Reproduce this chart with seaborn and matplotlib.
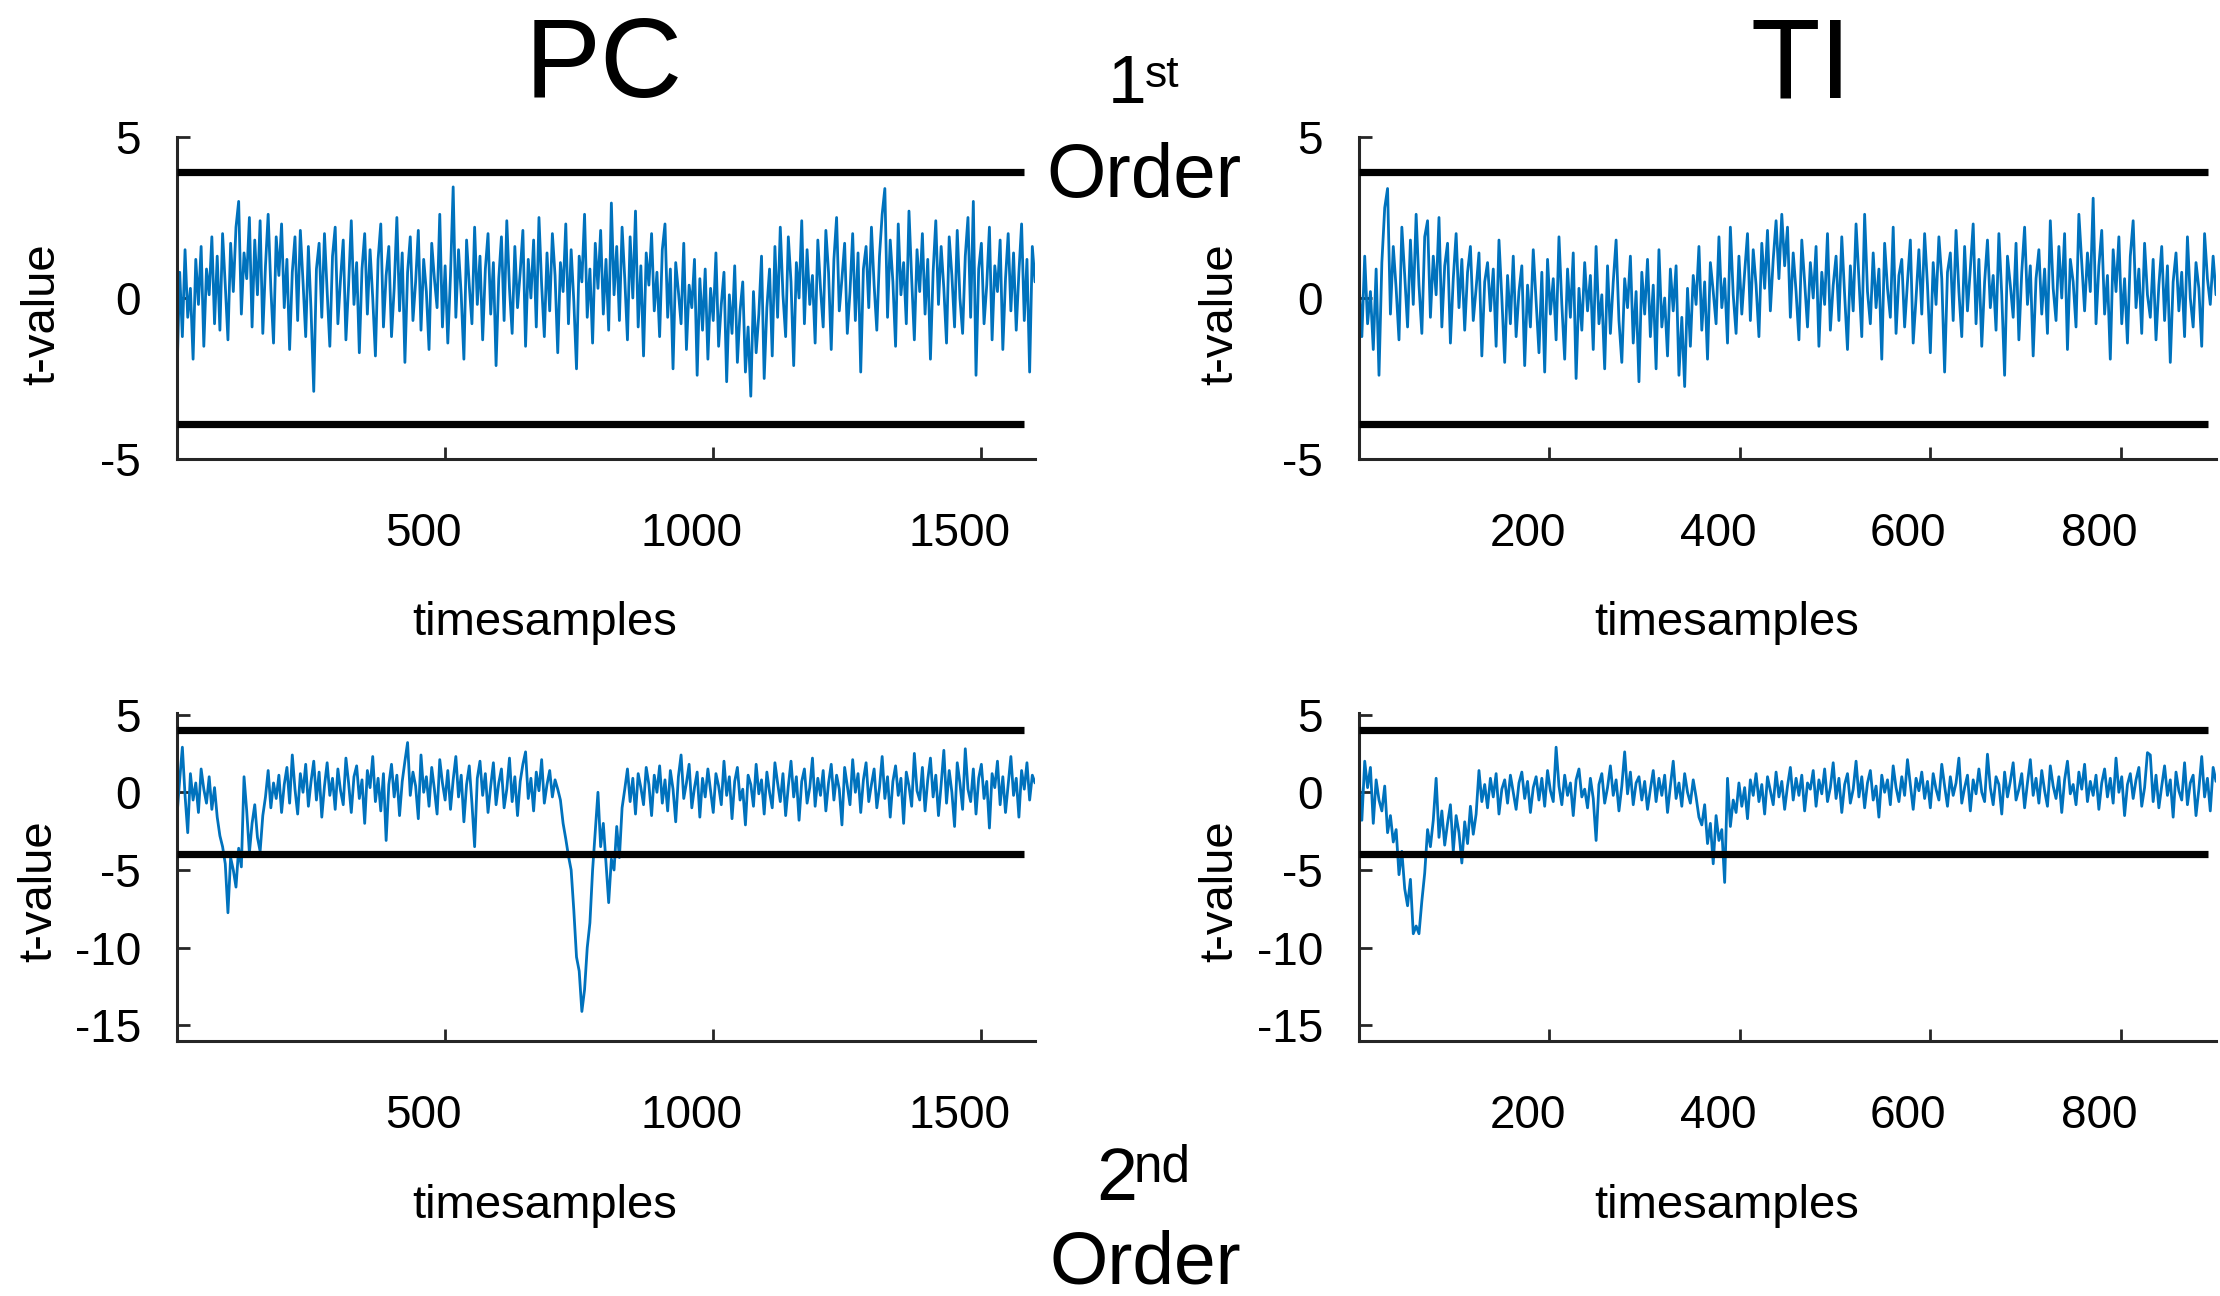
import numpy as np
import pandas as pd
import matplotlib
matplotlib.use("Agg")
import matplotlib.pyplot as plt
import matplotlib.transforms as mtransforms
import seaborn as sns

# ---------------- data ----------------
pc_step = 5      # sample spacing of the PC series (timesamples)
ti_step = 3      # sample spacing of the TI series (timesamples)

pc_first = [
    -2.4, 0.8, -1.2, 1.5, -0.6, 0.3, -1.9, 1.2, -0.2, 1.6, -1.5, 0.9, 0.1, 1.9, -0.8, 1.3, -1.0, 2.0, 0.4, -1.3,
    1.7, 0.2, 2.2, 3.0, -0.5, 1.4, 0.6, 2.5, -0.9, 1.8, 0.1, 2.4, -1.1, 1.0, 2.6, 0.3, -1.4, 1.9, 0.7, 2.3,
    -0.3, 1.2, -1.6, 0.8, 1.9, -0.7, 2.1, 0.5, -1.2, 1.6, -0.4, -2.9, 0.9, 1.7, -0.6, 2.0, 0.2, -1.5, 1.3, 2.2,
    -0.8, 0.6, 1.8, -1.3, 0.4, 2.4, -0.2, 1.1, -1.7, 0.9, 2.0, -0.5, 1.5, 0.0, -1.8, 1.2, 2.3, -0.9, 0.7, 1.6,
    -1.2, 0.3, 2.5, -0.4, 1.4, -2.0, 0.8, 1.9, -0.7, 0.5, 2.1, -1.0, 1.2, 0.2, -1.6, 1.7, 0.6, -0.3, 2.6, -0.9,
    1.0, -1.4, 0.7, 3.45, -0.6, 1.5, 0.1, -1.9, 1.8, 0.4, -0.8, 2.2, -0.2, 1.3, -1.3, 0.9, 2.0, -0.5, 1.1, -2.1,
    0.6, 1.9, -0.7, 2.4, 0.3, -1.1, 1.6, -0.3, 0.8, 2.1, -1.5, 1.2, 0.0, 1.8, -0.9, 2.5, 0.4, -1.2, 1.4, -0.4,
    2.0, 0.7, -1.7, 1.1, 0.2, 2.3, -0.8, 1.5, -0.1, -2.2, 1.3, 0.5, 2.6, -0.6, 0.9, -1.4, 1.7, 0.3, 2.1, -0.5,
    1.2, -1.0, 2.95, 0.1, 1.6, -0.7, 2.2, 0.6, -1.3, 1.9, 0.0, 2.7, -0.9, 1.0, -1.8, 1.4, 0.4, 2.0, -0.4, 0.8,
    -1.2, 1.5, 2.3, -0.6, 0.9, -2.2, 1.1, 0.2, -0.8, 1.7, -1.6, 0.4, -0.3, 1.2, -2.4, 0.6, -1.0, 0.9, -1.9, 0.3,
    -0.7, 1.4, -1.5, -0.2, 0.8, -2.6, 0.1, -1.1, 1.0, -2.0, -0.4, 0.5, -2.3, -0.9, -3.05, 0.2, -1.7, -0.5, 1.3, -2.5,
    -0.3, 0.9, -1.8, 1.6, -0.6, 2.2, 0.1, -1.2, 1.9, 0.5, -2.1, 1.1, 0.0, 2.4, -0.8, 1.5, -0.2, 0.7, -1.4, 1.8,
    0.3, -0.9, 2.1, 0.8, -1.6, 1.2, 2.5, -0.4, 0.6, 1.7, -1.1, 0.2, 2.0, -0.7, 1.4, -2.3, 0.9, 1.6, -0.3, 2.2,
    0.4, -1.0, 1.3, 2.6, 3.4, -0.6, 1.8, 0.5, -1.5, 2.3, 0.1, 1.1, -0.8, 2.7, 0.6, -1.3, 1.5, 0.2, 2.0, -0.5,
    1.2, -1.9, 0.8, 2.4, -0.2, 1.6, 0.3, -1.4, 1.9, 0.7, -0.9, 2.1, 0.0, -1.1, 1.3, 2.5, -0.6, 3.0, -2.4, 0.9,
    1.7, -0.8, 0.4, 2.2, -1.3, 1.0, 0.2, 1.8, -1.6, 0.6, 2.0, -0.4, 1.4, -1.0, 0.8, 2.3, -0.7, 1.2, -2.3, 1.6, 0.5,
]

ti_first = [
    0.5, -1.2, 1.3, -0.8, 0.2, -1.6, 0.9, -2.4, 1.1, 2.8, 3.4, -0.5, 1.6, 0.3, -1.3, 2.2, 0.7, -0.9, 1.8, -0.2,
    2.6, 0.4, -1.1, 1.9, 2.4, -0.6, 1.3, 0.1, 2.5, -0.9, 1.0, 1.7, -1.4, 0.6, 2.0, -0.3, 1.2, -1.0, 0.8, 1.6,
    -0.7, 0.3, 1.4, -1.8, 0.5, 1.1, -0.4, 0.9, -1.5, 1.8, 0.0, -2.0, 0.7, -0.8, 1.3, -1.2, 0.2, 1.0, -2.1, 0.4,
    -0.9, 1.5, -0.1, -1.7, 0.8, -2.3, 1.2, -0.5, 0.6, -1.3, 1.9, -0.2, -1.9, 0.9, -0.6, 1.4, -2.5, 0.3, -1.0, 1.1,
    -0.4, 0.7, -1.6, 1.6, -0.8, 0.1, -2.2, 1.0, -1.1, 0.5, 1.8, -0.7, -2.0, 0.6, -0.3, 1.3, -1.4, 0.2, -2.6, 0.8,
    -0.5, 1.2, -1.2, 0.4, -2.2, 1.5, -0.9, 0.0, -1.8, 0.9, -0.4, 1.0, -2.4, -0.6, -2.75, 0.3, -1.5, 0.7, -0.2, 1.6,
    -1.0, 0.5, -1.9, 1.1, 0.2, -0.8, 1.9, -0.3, 0.6, -1.4, 2.2, 0.1, -1.1, 1.3, -0.5, 0.8, 2.0, -0.7, 1.5, 0.4,
    -1.2, 1.7, 0.3, 2.1, -0.4, 1.2, 2.4, 0.6, 2.6, 1.0, 2.2, -0.6, 1.4, 0.2, -1.3, 1.8, 0.5, -0.9, 1.1, 0.0,
    1.6, -1.5, 0.8, -0.2, 2.0, -1.0, 0.4, 1.3, -0.7, 1.9, 0.1, -1.6, 1.0, -0.4, 2.3, 0.6, -1.2, 2.6, 0.2, -0.8,
    1.4, -0.3, 0.9, -1.9, 1.7, 0.3, -0.6, 2.2, -1.1, 0.7, 1.2, -0.9, 0.5, 1.8, -1.4, 0.0, 1.5, -0.5, 2.0, 0.4,
    -1.7, 1.1, -0.2, 1.9, 0.6, -2.3, 0.8, 1.4, -0.7, 2.1, 0.2, -1.2, 1.6, -0.4, 0.9, 2.3, -0.8, 1.2, -1.5, 0.5,
    1.8, -0.3, 0.7, -1.0, 2.0, 0.1, -2.4, 1.3, 0.4, -0.6, 1.7, -1.3, 0.8, 2.2, -0.2, 1.0, -1.8, 0.6, 1.5, -0.5,
    0.9, -1.1, 2.4, 0.3, -0.7, 1.6, 0.0, 2.0, -1.6, 1.2, 0.5, -0.9, 2.6, 1.1, -0.4, 1.4, 0.2, 3.1, -0.8, 1.0,
    2.1, -0.5, 0.7, -1.9, 1.5, 0.2, 1.9, -0.8, 0.6, -1.4, 1.3, 2.4, -0.3, 0.9, -1.1, 1.7, 0.1, -0.6, 1.2, -1.3,
    0.4, 1.6, -0.7, 1.0, -2.0, 0.5, 1.4, -0.4, 0.8, -1.2, 1.9, 0.0, -0.9, 1.1, 0.3, -1.5, 2.0, 0.6, -0.2, 1.3, 0.1,
]

pc_second = [
    -1.5, 0.8, 2.9, -0.2, -2.6, 1.2, -0.5, 0.6, -1.3, 1.5, 0.2, -0.7, 1.0, -1.1, 0.3, -1.6, -2.8, -3.5, -4.6, -7.75,
    -4.2, -5.0, -6.1, -3.6, -4.8, 1.0, -1.2, -3.9, -2.0, -0.8, -2.9, -3.8, -1.5, -0.3, 1.4, -1.0, 0.6, -0.4, 1.1, -1.3,
    0.5, 1.6, -0.7, 2.4, 0.2, -1.4, 1.2, 0.0, 1.8, -0.9, 0.7, 2.0, -0.5, 1.3, -1.6, 0.4, 1.9, -0.2, 0.9, -1.1,
    1.5, 0.1, -0.8, 2.2, 0.6, -1.3, 1.0, 1.7, -0.4, 0.8, -2.0, 1.4, 0.3, 2.3, -0.6, 0.9, -1.2, 1.2, -3.1, 0.5,
    1.8, -0.3, 1.1, -1.5, 0.7, 2.0, 3.2, -0.2, 1.3, 0.4, -1.7, 2.4, 0.0, 1.0, -0.9, 1.6, 0.2, -1.4, 2.1, 0.6,
    -0.5, 1.4, -1.1, 0.8, 2.3, -0.3, 1.1, -1.9, 0.5, 1.7, -0.7, -3.5, 0.9, 2.0, -0.2, 1.2, -1.3, 0.4, 1.9, -0.8,
    0.6, 1.5, -1.0, 0.2, 2.2, -0.6, 1.0, -1.5, 0.7, 1.8, 2.6, -0.4, 0.9, -1.2, 1.3, 0.1, 2.1, -0.7, 0.5, 1.4,
    -0.3, 0.8, 0.2, -0.5, -2.0, -3.0, -4.1, -5.0, -7.6, -10.6, -11.5, -14.1, -12.7, -10.0, -8.4, -5.0, -2.5, 0.0, -3.5, -2.0,
    -4.5, -7.1, -4.3, -5.0, -2.2, -4.2, -1.0, 0.2, 1.5, -0.6, 0.9, -1.4, 1.2, 0.3, -0.8, 1.6, 0.5, -1.5, 1.1, 0.0,
    1.7, -0.7, 0.8, -1.2, 1.4, 0.2, -1.9, 1.0, 2.4, -0.4, 0.6, 1.8, -1.0, 0.3, 1.3, -1.6, 0.9, -0.3, 1.5, 0.1,
    -1.3, 1.2, 0.4, -0.8, 2.0, -0.2, 1.0, -1.7, 0.7, 1.6, -0.5, 0.2, -2.1, 1.1, 0.5, -0.9, 1.8, -0.1, 0.8, -1.4,
    1.3, 0.0, -1.0, 1.9, 0.6, -0.6, 1.2, -1.5, 0.4, 2.0, -0.3, 1.0, -1.8, 0.7, 1.5, -0.7, 0.3, 2.2, -0.9, 0.9,
    -0.2, 1.4, -1.2, 0.6, 1.8, -0.5, 1.1, 0.2, -2.1, 1.6, 0.4, -0.8, 2.1, 0.0, 1.2, -1.3, 0.8, 1.9, -0.6, 0.5,
    1.5, -1.0, 0.3, 2.3, -0.4, 1.0, -1.6, 0.7, 1.7, -0.2, 0.9, -2.0, 1.3, 0.4, -0.9, 2.5, 0.1, -0.5, 1.6, -1.2,
    0.8, 2.2, -0.3, 1.1, -1.5, 0.5, 2.7, -0.7, 1.4, 0.0, -2.2, 1.9, 0.6, -1.1, 2.8, 0.2, -0.6, 1.5, -1.4, 0.9,
    1.8, -0.4, 0.7, -2.3, 1.2, 0.3, 2.0, -0.8, 1.0, -1.3, 0.5, 2.3, -0.2, 0.9, -1.6, 1.4, 0.2, 1.9, -0.5, 1.1, 0.6,
]

ti_second = [
    1.0, -1.8, 2.0, 0.3, 1.6, -2.0, 0.8, -0.5, -1.2, 0.4, -2.6, -1.5, -3.2, -2.4, -5.3, -3.8, -6.2, -7.3, -5.6, -9.1,
    -8.6, -9.1, -7.0, -5.2, -2.4, -3.5, -1.8, 0.9, -2.9, -1.2, -3.4, -2.0, -0.8, -3.8, -1.5, -2.6, -4.55, -1.9, -3.3, -0.9,
    -2.7, -1.4, 1.4, -0.6, 0.5, -1.0, 0.9, -0.3, 1.2, -1.4, 0.2, 0.8, -0.7, 1.1, 0.0, -1.1, 0.6, 1.3, -0.4, 0.7,
    -1.3, 0.3, 1.0, -0.5, 0.9, -0.9, 1.4, 0.1, -0.6, 2.9, 0.4, -0.8, 1.1, -0.2, 0.6, -1.5, 0.8, 1.5, -0.3, 0.2,
    -1.0, 0.9, -0.4, -3.1, 0.5, 1.2, -0.7, 0.3, 1.7, -0.2, 0.8, -1.2, 0.4, 2.6, -0.1, 1.3, -0.8, 0.6, 1.0, -0.5,
    0.7, -1.1, 0.2, 1.4, -0.6, 0.9, -0.2, 1.1, -1.3, 0.4, 2.0, -0.4, 0.6, -0.9, 1.2, 0.0, -0.7, 0.8, -0.3, -1.6,
    -2.1, -0.8, -3.3, -2.0, -4.6, -1.5, -3.1, -2.4, -5.8, 0.9, -2.2, -0.5, -1.3, 0.6, -0.9, 0.3, -1.7, 0.8, -0.2, 1.2,
    -0.6, 0.5, -1.4, 1.0, 0.1, -0.8, 1.3, -0.3, 0.7, -1.1, 0.4, 1.6, -0.5, 0.9, -0.2, 1.1, -1.2, 0.6, 0.2, 1.4,
    -0.9, 0.8, -0.1, 1.5, -0.6, 0.3, 1.9, -0.4, 0.9, -1.3, 0.5, 1.2, -0.7, 0.2, 2.0, -0.3, 1.0, -1.0, 0.6, 1.4,
    -0.5, 0.4, -1.6, 1.1, 0.0, 0.8, -0.8, 1.7, 0.3, -0.6, 1.0, -0.2, 2.1, 0.5, -1.1, 0.9, 0.1, 1.3, -0.4, 0.7,
    -1.0, 1.2, 0.2, -0.5, 1.8, 0.4, -0.9, 1.0, -0.2, 0.6, 2.2, -0.7, 0.3, 1.1, -1.2, 0.8, -0.1, 1.5, 0.0, -0.6,
    2.45, 0.3, -0.8, 1.0, 0.5, -1.4, 1.3, -0.3, 0.7, 1.9, -0.5, 0.2, 1.2, -1.0, 0.6, 2.1, -0.2, 0.9, -0.7, 1.4,
    0.1, -0.9, 1.7, 0.4, -0.4, 1.0, -1.3, 0.8, 2.0, -0.1, 0.5, -0.8, 1.3, 0.2, 1.8, -0.6, 0.7, -0.2, 1.1, -1.1,
    0.6, 1.5, -0.3, 0.9, -0.7, 2.2, 0.0, 1.0, -1.5, 0.5, 1.2, -0.4, 0.8, 1.6, -0.9, 0.3, 2.55, 2.4, -0.6, 1.1,
    -1.0, 0.4, 1.7, -0.2, 0.8, -1.6, 1.3, 0.1, -0.5, 1.9, -0.8, 0.6, 1.1, -1.5, 0.2, 2.3, -0.3, 0.9, -1.2, 1.6, 0.7,
]

col_titles = ["PC", "TI"]
order_word = "Order"
row_numbers = ["1", "2"]
row_suffixes = ["st", "nd"]
x_label = "timesamples"
y_label = "t-value"

pc_xlim = [0, 1600]
ti_xlim = [0, 900]
pc_xticks = [500, 1000, 1500]
ti_xticks = [200, 400, 600, 800]
first_ylim = [-5, 5]
second_ylim = [-16, 5.1]
first_yticks = [-5, 0, 5]
second_yticks = [-15, -10, -5, 0, 5]
first_thresholds = [3.9, -3.9]
second_thresholds = [4.0, -4.0]
pc_threshold_span = [0, 1580]
ti_threshold_span = [0, 892]

# ---------------- style ----------------
sns.set_style("ticks")
plt.rcParams["font.family"] = ["Liberation Sans", "DejaVu Sans"]
plt.rcParams["axes.unicode_minus"] = False
for key in ("text.color", "axes.labelcolor", "xtick.labelcolor", "ytick.labelcolor"):
    plt.rcParams[key] = "black"

LINE_COLOR = "#0072BD"
AX_COLOR = "#262626"

W, H = 2220, 1296
fig = plt.figure(figsize=(W / 100, H / 100), dpi=100)


def add_ax(left, top, right, bottom):
    return fig.add_axes([left / W, 1 - bottom / H, (right - left) / W, (bottom - top) / H])


def draw_panel(ax, values, step, xlim, xticks, ylim, yticks, thresholds, span, ylab_x, ylab_y, xlab_y):
    df = pd.DataFrame({"timesamples": np.arange(len(values)) * step, "t": values})
    sns.lineplot(data=df, x="timesamples", y="t", ax=ax, color=LINE_COLOR,
                 linewidth=2.0, estimator=None, errorbar=None)
    for th in thresholds:
        ax.plot(span, [th, th], color="black", lw=5.2, solid_capstyle="butt", zorder=5)
    ax.set_xlim(xlim)
    ax.set_ylim(ylim)
    ax.set_xticks(xticks)
    ax.set_yticks(yticks)
    sns.despine(ax=ax)
    for side in ("left", "bottom"):
        ax.spines[side].set_linewidth(2.2)
        ax.spines[side].set_color(AX_COLOR)
    ax.tick_params(axis="both", direction="in", length=9, width=2, color=AX_COLOR,
                   labelsize=33, labelcolor="black")
    ax.tick_params(axis="x", pad=38)
    ax.tick_params(axis="y", pad=26)
    shift = mtransforms.ScaledTranslation(-0.22, 0, fig.dpi_scale_trans)
    for lab in ax.get_xticklabels():
        lab.set_transform(lab.get_transform() + shift)
    ax.set_xlabel(x_label, fontsize=34, color="black")
    ax.xaxis.set_label_coords(0.429, xlab_y)
    ax.xaxis.label.set_va("center")
    ax.set_ylabel(y_label, fontsize=34, color="black")
    ax.yaxis.set_label_coords(ylab_x, ylab_y)
    ax.yaxis.label.set_va("center")


ax_tl = add_ax(177, 137, 1035, 459)
ax_tr = add_ax(1359, 137, 2216, 459)
ax_bl = add_ax(177, 713, 1035, 1041)
ax_br = add_ax(1359, 713, 2216, 1041)

draw_panel(ax_tl, pc_first, pc_step, pc_xlim, pc_xticks, first_ylim, first_yticks,
           first_thresholds, pc_threshold_span, -0.157, 0.45, -0.509)
draw_panel(ax_tr, ti_first, ti_step, ti_xlim, ti_xticks, first_ylim, first_yticks,
           first_thresholds, ti_threshold_span, -0.162, 0.45, -0.509)
draw_panel(ax_bl, pc_second, pc_step, pc_xlim, pc_xticks, second_ylim, second_yticks,
           second_thresholds, pc_threshold_span, -0.16, 0.457, -0.503)
draw_panel(ax_br, ti_second, ti_step, ti_xlim, ti_xticks, second_ylim, second_yticks,
           second_thresholds, ti_threshold_span, -0.162, 0.457, -0.503)

# ---------------- headings ----------------
fig.text(604 / W, 1 - 97 / H, col_titles[0], ha="center", va="baseline",
         fontsize=82, color="black")
fig.text(1801 / W, 1 - 97 / H, col_titles[1], ha="center", va="baseline",
         fontsize=82, color="black")

fig.text(1146 / W, 1 - 103 / H, row_numbers[0], ha="right", va="baseline",
         fontsize=50, color="black")
fig.text(1145 / W, 1 - 87 / H, row_suffixes[0], ha="left", va="baseline",
         fontsize=32, color="black")
fig.text(1144 / W, 1 - 197 / H, order_word, ha="center", va="baseline",
         fontsize=55, color="black")

fig.text(1137 / W, 1 - 1200 / H, row_numbers[1], ha="right", va="baseline",
         fontsize=53, color="black")
fig.text(1134 / W, 1 - 1182 / H, row_suffixes[1], ha="left", va="baseline",
         fontsize=37, color="black")
fig.text(1145 / W, 1 - 1284 / H, order_word, ha="center", va="baseline",
         fontsize=54, color="black")

fig.savefig("out.png", dpi=100)
